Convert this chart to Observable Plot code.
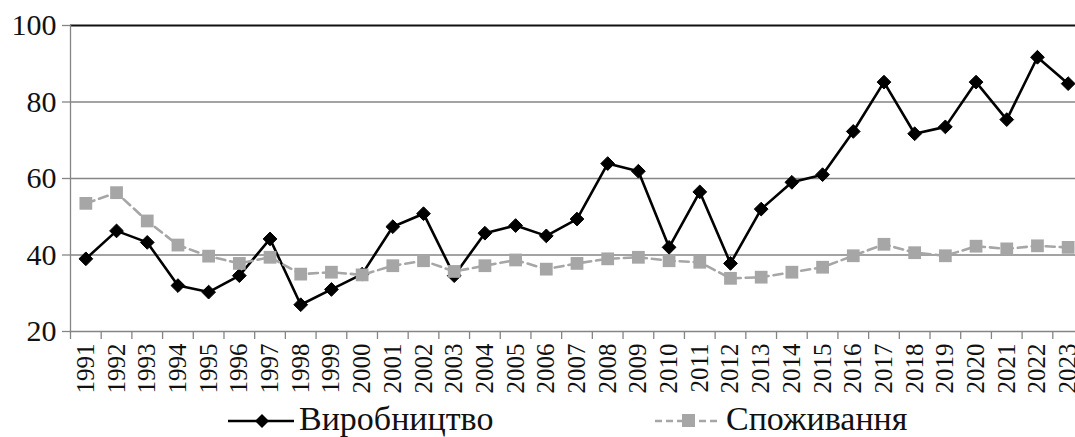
<!DOCTYPE html>
<html>
<head>
<meta charset="utf-8">
<script src="https://cdn.jsdelivr.net/npm/d3@7"></script>
<script src="https://cdn.jsdelivr.net/npm/@observablehq/plot@0.6"></script>
<style>
  html, body { margin: 0; padding: 0; background: #fff; }
  #wrap { width: 1075px; height: 437px; position: relative; overflow: hidden; font-family: "Liberation Serif", "Times New Roman", Times, "DejaVu Serif", serif; }
  #legend { position: absolute; left: 0; top: 400px; width: 1075px; height: 37px; }
  .item { position: absolute; top: 0; height: 37px; display: flex; align-items: center; }
  .item span { font-size: 34px; color: #111; line-height: 37px; font-family: "Liberation Serif", "Times New Roman", Times, "DejaVu Serif", serif; }
  #chart svg text { font-family: "Liberation Serif", "Times New Roman", Times, "DejaVu Serif", serif !important; }
</style>
</head>
<body>
<div id="wrap">
  <div id="chart"></div>
  <div id="legend"></div>
</div>
<script>
const years = [1991,1992,1993,1994,1995,1996,1997,1998,1999,2000,2001,2002,2003,2004,2005,2006,2007,2008,2009,2010,2011,2012,2013,2014,2015,2016,2017,2018,2019,2020,2021,2022,2023];
const production = [39.0,46.3,43.3,32.0,30.3,34.6,44.2,27.0,31.0,35.0,47.4,50.8,34.6,45.7,47.7,45.0,49.4,63.9,61.9,42.0,56.5,37.8,52.0,59.0,61.0,72.3,85.2,71.7,73.5,85.2,75.4,91.7,84.8];
const consumption = [53.5,56.3,48.9,42.6,39.7,37.8,39.4,35.0,35.5,34.8,37.2,38.5,35.7,37.2,38.7,36.3,37.8,39.0,39.4,38.5,38.1,33.9,34.2,35.5,36.8,39.8,42.8,40.6,39.8,42.3,41.6,42.4,42.0];
const yTicks = [20,40,60,80,100];
const gridValues = [40,60,80];
const topValue = [100];
const seriesNames = ["Виробництво", "Споживання"];

const prodData = years.map((y, i) => ({year: y, value: production[i]}));
const consData = years.map((y, i) => ({year: y, value: consumption[i]}));
const boundaries = years.map(y => y - 0.5).concat([years[years.length - 1] + 0.5]);

const serif = "'Liberation Serif', 'Times New Roman', Times, 'DejaVu Serif', serif";

const chart = Plot.plot({
  width: 1075,
  height: 400,
  marginTop: 25,
  marginBottom: 69,
  marginLeft: 70,
  marginRight: 0,
  x: {type: "linear", domain: [boundaries[0], boundaries[boundaries.length - 1]], range: [70, 1083]},
  y: {domain: [20, 100]},
  style: {fontFamily: serif, color: "#111", background: "white", overflow: "visible"},
  marks: [
    Plot.ruleY(gridValues, {stroke: "#858585", strokeWidth: 1.3}),
    Plot.ruleY(topValue, {stroke: "#111", strokeWidth: 1.8}),
    Plot.frame({anchor: "left", stroke: "#858585", strokeWidth: 1.3}),
    Plot.frame({anchor: "bottom", stroke: "#858585", strokeWidth: 1.3}),
    Plot.axisY({ticks: yTicks, tickSize: 8, tickPadding: 6, fontSize: 30, fontFamily: serif, stroke: "#858585", strokeWidth: 1.3, label: null}),
    Plot.axisX({ticks: boundaries, tickFormat: () => "", tickSize: 8, stroke: "#858585", strokeWidth: 1.3, label: null}),
    Plot.axisX({ticks: years, tickFormat: d => String(d), tickSize: 0, tickPadding: 12, tickRotate: -90, fontSize: 25, fontFamily: serif, label: null}),
    Plot.line(prodData, {x: "year", y: "value", stroke: "#000", strokeWidth: 2.6}),
    Plot.dot(prodData, {x: "year", y: "value", symbol: "diamond2", r: 6.2, fill: "#000", stroke: "#000", strokeWidth: 1}),
    Plot.line(consData, {x: "year", y: "value", stroke: "#a6a6a6", strokeWidth: 2.6, strokeDasharray: "9,5"}),
    Plot.dot(consData, {x: "year", y: "value", symbol: "square", r: 7.2, fill: "#a6a6a6", stroke: "none"})
  ]
});
document.getElementById("chart").appendChild(chart);

// Legend
const legend = document.getElementById("legend");
function addItem(left, name, kind) {
  const div = document.createElement("div");
  div.className = "item";
  div.style.left = left + "px";
  const ns = "http://www.w3.org/2000/svg";
  const svg = document.createElementNS(ns, "svg");
  svg.setAttribute("width", 68);
  svg.setAttribute("height", 37);
  const line = document.createElementNS(ns, "line");
  line.setAttribute("x1", 0); line.setAttribute("x2", 66);
  line.setAttribute("y1", 21); line.setAttribute("y2", 21);
  line.setAttribute("stroke-width", 2.6);
  if (kind === "prod") {
    line.setAttribute("stroke", "#000");
    svg.appendChild(line);
    const p = document.createElementNS(ns, "path");
    p.setAttribute("d", "M34,14 L41,21 L34,28 L27,21 Z");
    p.setAttribute("fill", "#000");
    svg.appendChild(p);
  } else {
    line.setAttribute("stroke", "#a6a6a6");
    line.setAttribute("stroke-dasharray", "7,4");
    svg.appendChild(line);
    const r = document.createElementNS(ns, "rect");
    r.setAttribute("x", 27); r.setAttribute("y", 14); r.setAttribute("width", 13); r.setAttribute("height", 13);
    r.setAttribute("fill", "#a6a6a6");
    svg.appendChild(r);
  }
  div.appendChild(svg);
  const span = document.createElement("span");
  span.textContent = name;
  span.style.marginLeft = "3px";
  div.appendChild(span);
  legend.appendChild(div);
}
addItem(228, seriesNames[0], "prod");
addItem(655, seriesNames[1], "cons");
</script>
</body>
</html>
